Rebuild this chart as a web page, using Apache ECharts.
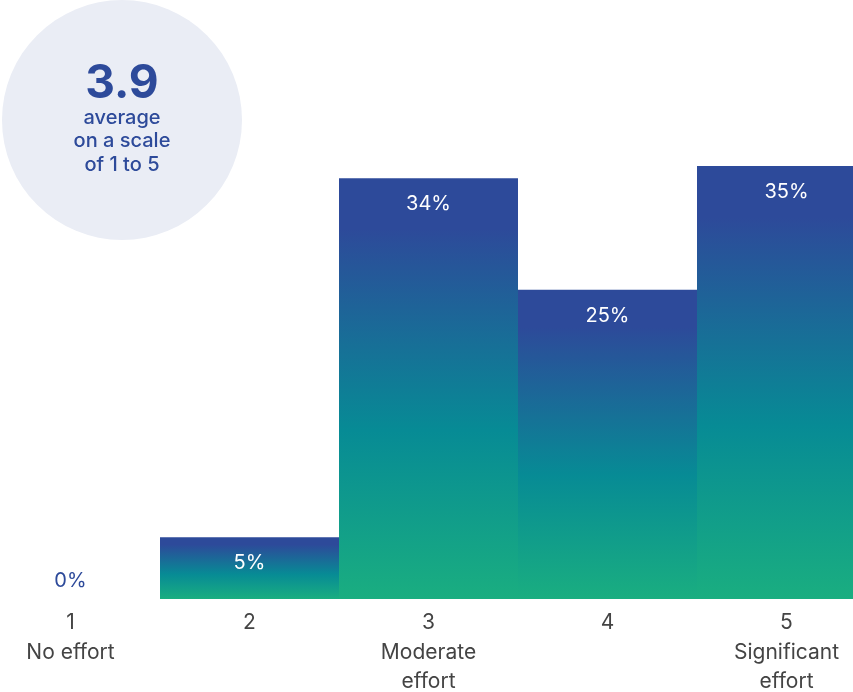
<!DOCTYPE html>
<html><head><meta charset="utf-8">
<script src="https://cdn.jsdelivr.net/npm/echarts@6/dist/echarts.min.js"></script>
<style>html,body{margin:0;padding:0;background:#fff}#c{width:853px;height:692px}</style>
</head><body><div id="c"></div>
<script>
const categories = ['1\nNo effort', '2', '3\nModerate\neffort', '4', '5\nSignificant\neffort'];
const values = [0, 5, 34, 25, 35];
const averageText = '3.9';
const averageCaption = 'average\non a scale\nof 1 to 5';

const FONT = 'Inter, "Noto Sans", sans-serif';
const BLUE = '#2d4a9a';
const grad = new echarts.graphic.LinearGradient(0, 0, 0, 1, [
  {offset: 0, color: '#2d4a9a'},
  {offset: 0.12, color: '#2d4a9a'},
  {offset: 0.6, color: '#078b95'},
  {offset: 1, color: '#1aae80'}
]);

const chart = echarts.init(document.getElementById('c'), null, {renderer: 'canvas'});
chart.setOption({
  animation: false,
  grid: {left: -19, right: -23, top: 104, bottom: 93, containLabel: false, outerBoundsMode: 'none'},
  xAxis: {
    type: 'category', data: categories,
    axisLine: {show: false}, axisTick: {show: false},
    axisLabel: {color: '#444', fontFamily: FONT, fontSize: 21, lineHeight: 29.5, margin: 9, interval: 0}
  },
  yAxis: {type: 'value', min: 0, max: 40, show: false, splitLine: {show: false}},
  series: [{
    type: 'bar',
    barCategoryGap: '0%',
    data: values.map(v => v === 0
      ? {value: v, label: {position: 'top', color: BLUE, distance: 8}}
      : {value: v}),
    itemStyle: {color: grad},
    label: {
      show: true, position: 'insideTop', distance: 16,
      color: '#fff', fontFamily: FONT, fontSize: 20,
      formatter: p => p.value + '%'
    }
  }],
  graphic: [
    {type: 'circle', shape: {cx: 122, cy: 120, r: 120}, style: {fill: '#eaedf5'}, z: 0},
    {type: 'text', x: 122, y: 84, style: {text: averageText, fill: BLUE, font: 'bold 46px ' + FONT, textAlign: 'center', textVerticalAlign: 'middle'}},
    {type: 'text', x: 122, y: 141, style: {text: averageCaption, fill: BLUE, font: '500 20px ' + FONT, lineHeight: 23.5, textAlign: 'center', textVerticalAlign: 'middle'}}
  ]
});
</script></body></html>
